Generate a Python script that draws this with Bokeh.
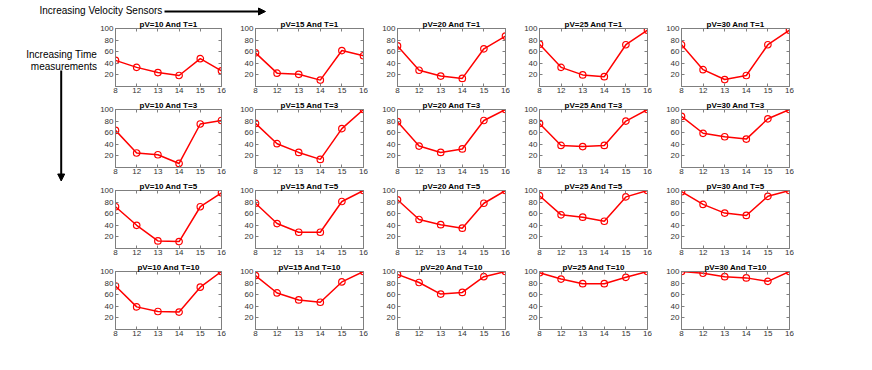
from bokeh.plotting import figure
from bokeh.layouts import gridplot, column, row
from bokeh.models import Range1d, FixedTicker, Arrow, NormalHead, Label, LinearAxis
from bokeh.embed import file_html
from bokeh.resources import INLINE

# ---- data ----
sensor_labels = ["8", "12", "13", "14", "15", "16"]
pv_levels = [10, 15, 20, 25, 30]
t_levels = [1, 3, 5, 10]
y_ticks = [20, 40, 60, 80, 100]

t1_pv10 = [45, 33, 24, 19, 48, 27]
t1_pv15 = [58, 23, 21, 11, 62, 53]
t1_pv20 = [70, 28, 18, 14, 65, 87]
t1_pv25 = [73, 33, 20, 17, 72, 97]
t1_pv30 = [72, 29, 12, 19, 72, 97]

t3_pv10 = [64, 25, 22, 7, 75, 81]
t3_pv15 = [76, 41, 26, 14, 67, 100]
t3_pv20 = [79, 37, 26, 32, 81, 100]
t3_pv25 = [76, 38, 36, 38, 80, 100]
t3_pv30 = [88, 59, 53, 49, 84, 100]

t5_pv10 = [72, 40, 13, 12, 72, 96]
t5_pv15 = [78, 43, 28, 28, 81, 100]
t5_pv20 = [84, 50, 41, 35, 78, 100]
t5_pv25 = [91, 58, 54, 47, 89, 100]
t5_pv30 = [98, 76, 61, 57, 90, 100]

t10_pv10 = [75, 39, 31, 30, 73, 100]
t10_pv15 = [93, 63, 51, 47, 82, 100]
t10_pv20 = [95, 81, 61, 64, 91, 100]
t10_pv25 = [98, 87, 79, 79, 90, 100]
t10_pv30 = [100, 97, 91, 89, 83, 100]

series = {
    1: [t1_pv10, t1_pv15, t1_pv20, t1_pv25, t1_pv30],
    3: [t3_pv10, t3_pv15, t3_pv20, t3_pv25, t3_pv30],
    5: [t5_pv10, t5_pv15, t5_pv20, t5_pv25, t5_pv30],
    10: [t10_pv10, t10_pv15, t10_pv20, t10_pv25, t10_pv30],
}

FONT = "Liberation Sans"
AX = "#7f7f7f"
RED = "#ff0000"

LEFT_W = 97
TOP_H = 17
FRAME_W = 108
FRAME_H = 58


def style_axis(ax, show_labels):
    ax.major_tick_in = 3
    ax.major_tick_out = 0
    ax.minor_tick_in = 0
    ax.minor_tick_out = 0
    ax.axis_line_color = AX
    ax.major_tick_line_color = AX
    ax.major_label_text_font = FONT
    ax.major_label_text_color = "#333333"
    if show_labels:
        ax.major_label_text_font_size = "8px"
    else:
        ax.major_label_text_font_size = "0px"
        ax.major_label_standoff = 0
        ax.major_label_text_alpha = 0


def make_panel(pv, t, vals, first_col, first_row):
    bl = 16 if first_col else 29
    br = 5
    bt = 11 if first_row else 12
    bb = 11
    p = figure(width=bl + FRAME_W + br, height=bt + FRAME_H + bb,
               x_range=Range1d(0, len(sensor_labels) - 1), y_range=Range1d(0, 100),
               output_backend="svg", toolbar_location=None,
               min_border_left=bl, min_border_right=br,
               min_border_top=bt, min_border_bottom=bb,
               title=f"pV={pv} And T={t}")
    p.title.align = "center"
    p.title.text_font = FONT
    p.title.text_font_size = "8px"
    p.title.text_font_style = "bold"
    p.title.text_color = "black"
    p.title.standoff = 0
    xi = list(range(len(sensor_labels)))
    p.xaxis.ticker = FixedTicker(ticks=xi)
    p.xaxis.major_label_overrides = {i: s for i, s in enumerate(sensor_labels)}
    p.yaxis.ticker = FixedTicker(ticks=y_ticks)
    style_axis(p.xaxis[0], True)
    style_axis(p.yaxis[0], True)
    p.xaxis.major_label_standoff = 1
    p.yaxis.major_label_standoff = 2
    # box-style mirrored ticks on the right and top
    rax = LinearAxis(ticker=FixedTicker(ticks=y_ticks))
    style_axis(rax, False)
    p.add_layout(rax, "right")
    tax = LinearAxis(ticker=FixedTicker(ticks=xi))
    style_axis(tax, False)
    p.add_layout(tax, "above")
    p.grid.visible = False
    p.outline_line_color = AX
    p.background_fill_color = "white"
    p.border_fill_color = "white"
    p.line(xi, vals, line_color=RED, line_width=1.5)
    p.scatter(xi, vals, marker="circle", size=6.5, line_color=RED, line_width=1.2,
              fill_alpha=0)
    return p


def blank(w, h):
    f = figure(width=w, height=h, x_range=Range1d(0, w), y_range=Range1d(h, 0),
               output_backend="svg", toolbar_location=None, min_border=0,
               x_axis_type=None, y_axis_type=None)
    f.outline_line_color = None
    f.grid.visible = False
    f.border_fill_color = "white"
    return f


panels = []
for ri, t in enumerate(t_levels):
    for ci, pv in enumerate(pv_levels):
        panels.append(make_panel(pv, t, series[t][ci], ci == 0, ri == 0))

grid = gridplot(panels, ncols=5, toolbar_location=None)

grid_w = (16 + FRAME_W + 5) + 4 * (29 + FRAME_W + 5)
grid_h = (11 + FRAME_H + 11) + 3 * (12 + FRAME_H + 11)

# top annotation strip
top = blank(LEFT_W + grid_w, TOP_H)
top.add_layout(Label(x=39, y=9.5, text="Increasing Velocity Sensors", text_font=FONT,
                     text_font_size="10px", text_baseline="middle", text_align="left",
                     text_color="black"))
top.add_layout(Arrow(x_start=164, y_start=11, x_end=265, y_end=11, line_width=2,
                     line_color="black",
                     end=NormalHead(size=7, fill_color="black", line_color="black")))

# left annotation strip
left = blank(LEFT_W, grid_h)
left.add_layout(Label(x=96.5, y=37, text="Increasing Time", text_font=FONT,
                      text_font_size="10px", text_baseline="middle", text_align="right",
                      text_color="black"))
left.add_layout(Label(x=96.5, y=49, text="measurements", text_font=FONT,
                      text_font_size="10px", text_baseline="middle", text_align="right",
                      text_color="black"))
left.add_layout(Arrow(x_start=60.7, y_start=53, x_end=60.7, y_end=163.5, line_width=2,
                      line_color="black",
                      end=NormalHead(size=7, fill_color="black", line_color="black")))

layout = column(top, row(left, grid))

open("out.html", "w").write(file_html(layout, INLINE))
